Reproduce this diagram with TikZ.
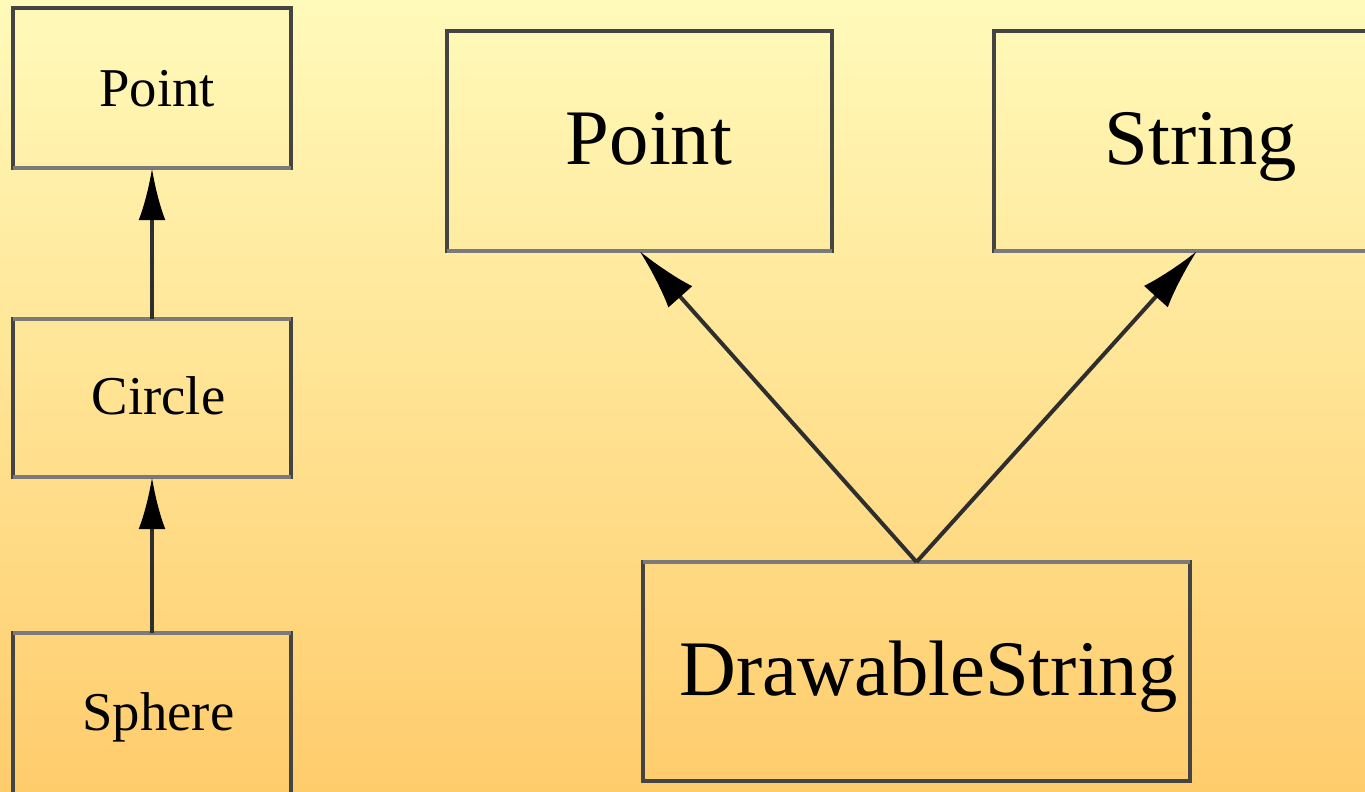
\documentclass[tikz,border=0pt]{standalone}
\usepackage{fontspec}
\setmainfont{Liberation Serif}
\usetikzlibrary{arrows.meta}
\definecolor{bgtop}{RGB}{255,250,186}
\definecolor{bgbot}{RGB}{255,204,108}
\definecolor{edge}{RGB}{68,68,68}
\definecolor{soft}{RGB}{122,122,122}
\begin{document}
\begin{tikzpicture}[x=0.75pt,y=-0.75pt,
  box/.style={draw=edge,line width=3pt,inner sep=0pt,outer sep=0pt},
  smallbox/.style={box,minimum width=208.5pt},
  bigbox/.style={box,minimum height=165pt},
  smalltext/.style={anchor=base,inner sep=0pt,font=\fontsize{41}{41}\selectfont},
  bigtext/.style={anchor=base,inner sep=0pt,font=\fontsize{59}{59}\selectfont},
  softedge/.style={draw=soft,line width=3pt},
  arr/.style={-{Latex[length=39pt,width=20pt,color=black]},line width=3pt,draw=black!82},
  darr/.style={-{Latex[length=46pt,width=24pt,color=black]},line width=3pt,draw=black!82}]
\useasboundingbox (0,0) rectangle (1365,792);
\clip (0,0) rectangle (1365,792);
\shade[top color=bgtop,bottom color=bgbot] (0,0) rectangle (1365,792);
% boxes
\node[smallbox,minimum height=120pt] (pointS) at (152,88) {};
\node[smallbox,minimum height=118.5pt] (circle) at (152,398) {};
\node[smallbox,minimum height=123pt] (sphere) at (152,715) {};
\node[bigbox,minimum width=288.75pt] (pointB) at (639.5,141) {};
\node[bigbox,minimum width=304.5pt] (string) at (1197,141) {};
\node[bigbox,minimum width=410.25pt,minimum height=164.25pt] (ds) at (916.5,671.5) {};
% softer edges next to the connectors
\draw[softedge] (pointS.south west) -- (pointS.south east);
\draw[softedge] (circle.north west) -- (circle.north east);
\draw[softedge] (circle.south west) -- (circle.south east);
\draw[softedge] (sphere.north west) -- (sphere.north east);
\draw[softedge] (pointB.south west) -- (pointB.south east);
\draw[softedge] (string.south west) -- (string.south east);
\draw[softedge] (ds.north west) -- (ds.north east);
% labels
\node[smalltext] (tpointS) at (157,107) {Point};
\node[smalltext] (tcircle) at (158.5,414) {Circle};
\node[smalltext] (tsphere) at (158.5,730) {Sphere};
\node[bigtext] (tpointB) at (649,165) {Point};
\node[bigtext] (tstring) at (1201,165) {String};
\node[bigtext] (tds) at (928.5,695) {DrawableString};
% connectors
\draw[arr] (circle.north) -- (pointS.south);
\draw[arr] (sphere.north) -- (circle.south);
\draw[darr] (ds.north) -- (pointB.south);
\draw[darr] (ds.north) -- (string.south);
\end{tikzpicture}
\end{document}
